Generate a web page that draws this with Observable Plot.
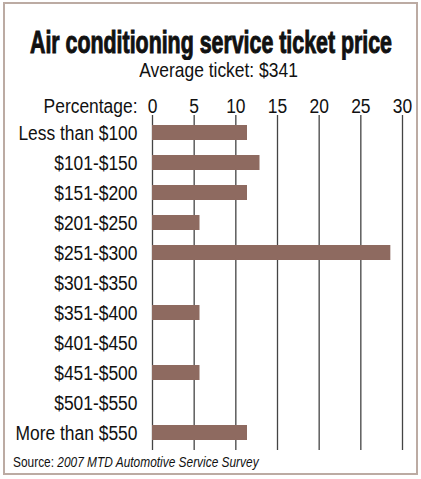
<!DOCTYPE html>
<html><head><meta charset="utf-8">
<script src="https://cdn.jsdelivr.net/npm/d3@7"></script>
<script src="https://cdn.jsdelivr.net/npm/@observablehq/plot@0.6"></script>
<style>
body{margin:0;background:#fff;}
#wrap{position:relative;width:421px;height:479px;overflow:hidden;font-family:"Liberation Sans",Arial,sans-serif;color:#111;background:#fff;}
#frame{position:absolute;left:3px;top:2px;width:411px;height:469px;border:2px solid #bcaba3;}
#title{position:absolute;left:0;top:0;}
#sub{position:absolute;left:0;width:437px;top:59px;text-align:center;font-size:21px;line-height:1;}
#sub span{display:inline-block;transform:scaleX(0.83);transform-origin:center;white-space:nowrap;}
#chart{position:absolute;left:0;top:88px;}
#src{position:absolute;left:13px;top:455px;font-size:14px;line-height:1;white-space:nowrap;transform:scaleX(0.85);transform-origin:left top;}
</style></head>
<body>
<div id="wrap">
  <div id="frame"></div>
  <svg id="title" width="421" height="60"><text transform="translate(30,52.5) scale(1,1.5)" textLength="362" lengthAdjust="spacingAndGlyphs" font-family="Liberation Sans, Arial, sans-serif" font-weight="bold" font-size="21.4" fill="#111" stroke="#111" stroke-width="0.7">Air conditioning service ticket price</text></svg>
  <div id="sub"><span>Average ticket: $341</span></div>
  <div id="chart"></div>
  <div id="src">Source: <i>2007 MTD Automotive Service Survey</i></div>
</div>
<script>
const categories = ["Less than $100","$101-$150","$151-$200","$201-$250","$251-$300","$301-$350","$351-$400","$401-$450","$451-$500","$501-$550","More than $550"];
const percentages = [11.4,12.9,11.4,5.7,28.6,0,5.7,0,5.7,0,11.4];
const tickValues = [0,5,10,15,20,25,30];
const data = categories.map((c,i)=>({category:c, value:percentages[i]}));

const chart = Plot.plot({
  width:421, height:370,
  marginLeft:152, marginRight:19, marginTop:27, marginBottom:8,
  x:{domain:[0,30], axis:null, label:null},
  y:{domain:categories, paddingInner:0.5, paddingOuter:0.3, axis:null, label:null},
  style:{fontFamily:'"Liberation Sans",Arial,sans-serif', fontSize:"21px", color:"#111", background:"transparent", overflow:"visible"},
  marks:[
    Plot.ruleX(tickValues,{stroke:"#444", strokeWidth:1.3}),
    Plot.barX(data,{x:"value", y:"category", fill:"#8e6a60"}),
    Plot.axisX(tickValues,{anchor:"top", tickSize:0, tickPadding:3, label:null}),
    Plot.axisY({anchor:"left", tickSize:0, tickPadding:15, label:null}),
    Plot.text(["Percentage:"],{frameAnchor:"top-left", textAnchor:"end", lineAnchor:"bottom", dx:-15, dy:-3})
  ]
});
// condense the lettering horizontally around each text's anchor point
chart.querySelectorAll("text").forEach(el => {
  const t = el.getAttribute("transform");
  if (t && t.includes("translate")) el.setAttribute("transform", t + " scale(0.83,1)");
  else {
    const x = +(el.getAttribute("x") || 0);
    el.setAttribute("transform", `translate(${x},0) scale(0.83,1) translate(${-x},0)`);
  }
});
document.getElementById("chart").appendChild(chart);
</script>
</body></html>
